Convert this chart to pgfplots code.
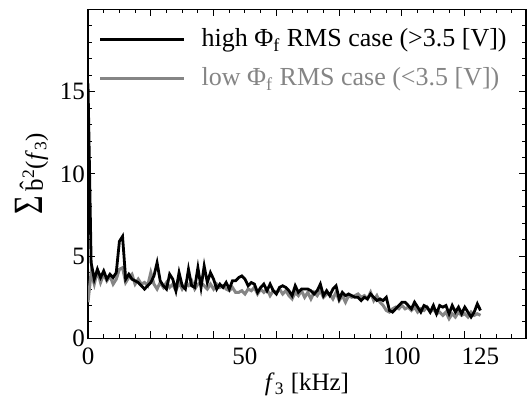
\documentclass[border=0pt]{standalone}
\usepackage{fontspec}
\setmainfont{Liberation Serif}
\usepackage{pgfplots}
\pgfplotsset{compat=1.18}
\usepackage{pgfplotstable}
\definecolor{lowgray}{rgb}{0.52,0.52,0.52}

\pgfplotstableread{
x y
0 15.5
1 4.6
2 3.6
3 4.2
4 3.7
5 4.1
6 3.6
7 3.9
8 3.7
9 4.0
10 5.9
11 6.2
12 3.6
13 3.9
14 3.6
15 3.5
16 3.4
17 3.2
18 3.0
19 3.2
20 3.4
21 3.8
22 4.6
23 3.5
24 3.2
25 3.0
26 3.9
27 3.6
28 2.9
29 4.0
30 3.2
31 3.0
32 4.2
33 3.2
34 3.1
35 4.3
36 3.1
37 4.4
38 3.4
39 4.0
40 3.6
41 3.0
42 3.3
43 3.1
44 3.4
45 3.0
46 3.5
47 3.5
48 3.7
49 3.8
50 3.6
51 3.2
52 3.4
53 3.3
54 2.8
55 3.1
56 3.3
57 2.9
58 3.3
59 2.9
60 2.7
61 3.1
62 3.2
63 3.1
64 2.9
65 2.6
66 3.2
67 2.8
68 3.0
69 3.0
70 3.0
71 2.9
72 2.7
73 2.9
74 3.3
75 2.6
76 2.9
77 2.6
78 3.0
79 3.2
80 2.4
81 2.8
82 2.6
83 2.7
84 2.6
85 2.5
86 2.5
87 2.3
88 2.5
89 2.4
90 2.7
91 2.5
92 2.3
93 2.4
94 2.3
95 2.5
96 1.7
97 1.6
98 1.8
99 2.0
100 2.2
101 2.2
102 2.0
103 1.8
104 2.2
105 1.9
106 1.6
107 2.0
108 1.9
109 1.6
110 2.0
111 1.5
112 2.0
113 1.9
114 2.0
115 1.5
116 2.0
117 1.6
118 1.9
119 1.5
120 1.9
121 1.6
122 1.3
123 1.6
124 2.1
125 1.7
}\highdata

\pgfplotstableread{
x y
0 2.2
1 4.0
2 3.3
3 4.1
4 3.4
5 3.9
6 3.5
7 3.8
8 3.3
9 3.6
10 4.2
11 4.3
12 3.4
13 3.7
14 3.9
15 3.3
16 3.6
17 3.3
18 3.4
19 3.2
20 4.0
21 3.3
22 3.0
23 3.4
24 3.1
25 3.4
26 3.1
27 3.3
28 2.9
29 3.4
30 3.0
31 3.3
32 3.2
33 3.5
34 3.0
35 3.3
36 3.4
37 3.2
38 3.0
39 3.3
40 3.0
41 3.3
42 3.1
43 3.2
44 3.0
45 2.9
46 3.1
47 2.8
48 2.8
49 2.9
50 2.7
51 3.0
52 2.9
53 3.1
54 2.7
55 3.0
56 2.8
57 3.0
58 2.6
59 2.9
60 2.8
61 3.0
62 2.7
63 2.9
64 2.6
65 2.4
66 2.8
67 2.6
68 2.9
69 2.5
70 2.8
71 2.4
72 2.8
73 2.6
74 2.9
75 2.5
76 2.7
77 2.7
78 2.4
79 2.8
80 2.3
81 2.6
82 2.2
83 2.6
84 2.5
85 2.6
86 2.7
87 2.5
88 2.6
89 2.4
90 2.8
91 2.3
92 2.6
93 2.2
94 2.0
95 1.7
96 1.6
97 1.8
98 1.9
99 1.8
100 2.0
101 1.8
102 1.9
103 1.7
104 1.9
105 1.6
106 1.8
107 1.7
108 1.9
109 1.6
110 1.8
111 1.5
112 1.6
113 1.4
114 1.6
115 1.2
116 1.5
117 1.3
118 1.6
119 1.4
120 1.5
121 1.3
122 1.6
123 1.4
124 1.5
125 1.4
}\lowdata

\begin{document}
\begin{tikzpicture}
\begin{axis}[
  scale only axis,
  width=219pt, height=164.5pt,
  xmin=0, xmax=139.5, ymin=0, ymax=20,
  font=\fontsize{12.5}{15}\selectfont,
  /pgf/number format/assume math mode=true,
  axis line style={line width=0.6pt},
  tick style={line width=0.5pt, black},
  tick align=inside,
  major tick length=3.5pt, minor tick length=2pt,
  xtick={20,40,...,120}, xticklabels={},
  extra x ticks={0,50,100,125},
  extra x tick labels={0,50,100,125},
  extra x tick style={major tick length=0pt},
  minor xtick={5,10,...,135},
  ytick={0,5,10,15},
  minor ytick={1,2,...,19},
  xticklabel style={yshift=-1pt},
  yticklabel style={xshift=2pt},
  xlabel={\textit{f}\textsubscript{3} [kHz]},
  ylabel={\scalebox{1}[1.3]{\fontsize{16}{16}\selectfont Σ}\hspace{2.5pt}\^{b}\textsuperscript{2}(\textit{f}\textsubscript{3})},
  xlabel style={yshift=2.5pt},
  ylabel style={yshift=-1pt},
  legend cell align=left,
  legend style={draw=none, fill=none, at={(rel axis cs:0,1)}, anchor=north west,
    xshift=2pt, yshift=-5.5pt, row sep=5pt, column sep=6pt,
    font=\fontsize{13}{15}\selectfont,
    nodes={inner sep=2pt}},
  legend image code/.code={\draw[#1, line width=1.6pt] (0pt,0pt) -- (42pt,0pt);},
]
\addplot[lowgray, line width=1.5pt, forget plot] table[x=x,y=y] {\lowdata};
\addplot[black, line width=1.4pt] table[x=x,y=y] {\highdata};
\addlegendentry{high Φ\textsubscript{f} RMS case (>3.5 [V])}
\addlegendimage{lowgray, line width=1.5pt}
\addlegendentry{\textcolor{lowgray}{low Φ\textsubscript{f} RMS case (<3.5 [V])}}
\end{axis}
\pgfresetboundingbox
\path[use as bounding box] ([shift={(-44pt,-29pt)}]current axis.south west) rectangle ([shift={(1pt,4.7pt)}]current axis.north east);
\end{tikzpicture}
\end{document}
